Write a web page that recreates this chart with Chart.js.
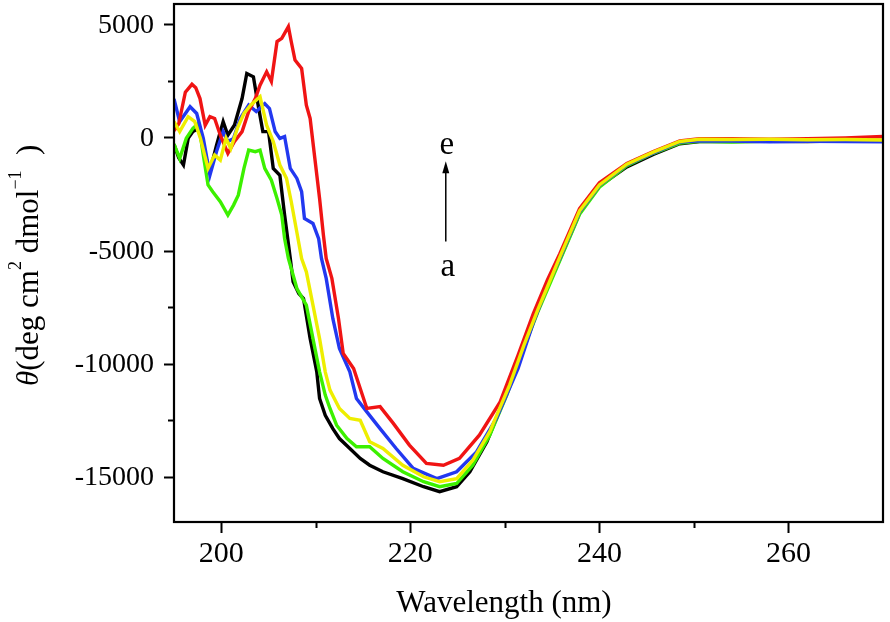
<!DOCTYPE html>
<html>
<head>
<meta charset="utf-8">
<script src="https://cdn.jsdelivr.net/npm/chart.js@4.4.1/dist/chart.umd.min.js"></script>
<style>
  html, body { margin: 0; padding: 0; background: #ffffff; }
  #wrap { width: 890px; height: 622px; }
</style>
</head>
<body>
<div id="wrap"><canvas id="c" width="890" height="622"></canvas></div>
<script>
// ---- Data (wavelength in nm, ellipticity in deg cm^2 dmol^-1) ----
const wavelengthsA = [195.0,195.5,196.0,196.5,197.0,197.6,198.1,198.8,199.5,200.2,200.7,201.4,202.2,202.7,203.4,203.9,204.4,205.0,205.5,206.2,206.7,207.3,207.6,208.2,208.7,209.4,210.1,210.4,211.0,211.8,212.5,213.6,214.7,215.7,217.1,219.2,221.4,223.1,224.9,226.3,228.1,229.8,231.4,233.0,234.5,235.8,237.9,240.0,242.9,245.7,248.5,250.6,254.0,258.0,262.0,266.0,270.0];
const valuesA      = [-300,-900,-1220,-40,260,400,-490,-1500,-340,700,100,550,1720,2830,2680,1430,260,260,-1370,-1670,-3430,-5350,-6380,-6900,-7120,-8890,-10350,-11540,-12280,-12870,-13310,-13750,-14190,-14490,-14780,-15080,-15440,-15660,-15440,-14780,-13450,-11690,-10070,-8150,-6600,-5400,-3350,-2150,-1300,-750,-280,-180,-180,-170,-180,-150,-130];

const wavelengthsB = [195.0,195.6,196.3,197.0,197.6,198.1,198.6,199.1,199.9,200.7,201.3,201.8,202.4,202.9,203.6,204.1,204.6,205.3,205.9,206.4,206.7,207.1,207.5,208.0,209.0,209.7,210.4,211.0,211.5,212.2,213.3,214.3,215.7,217.1,219.2,221.4,223.1,224.9,226.6,228.4,230.2,232.0,233.5,235.8,237.9,240.0,242.9,245.7,248.5,250.6,254.0,258.0,262.0,266.0,270.0];
const valuesB      = [-300,-930,-40,400,620,-780,-2100,-2400,-2840,-3430,-2990,-2550,-1370,-560,-630,-560,-1370,-1890,-2700,-3430,-4470,-5350,-5940,-6680,-7410,-8890,-10360,-11390,-11980,-12720,-13310,-13670,-13670,-14190,-14780,-15220,-15440,-15300,-14490,-13160,-11390,-9300,-7700,-5450,-3400,-2200,-1250,-700,-250,-170,-200,-160,-150,-140,-150];

const wavelengthsC = [195.0,195.6,196.5,197.2,197.8,198.6,199.3,199.9,200.5,201.0,201.7,202.4,203.1,204.1,204.8,205.5,206.2,206.9,207.4,208.0,208.5,209.0,209.7,210.4,211.0,211.5,212.5,213.6,214.7,215.7,217.1,219.2,221.4,223.1,224.9,226.6,228.4,230.5,232.0,233.5,235.8,237.9,240.0,242.9,245.7,248.5,250.6,254.0,258.0,262.0,266.0,270.0];
const valuesC      = [700,260,920,700,-40,-1370,-780,-1000,-40,-490,400,1060,1430,1800,540,-180,-1220,-1810,-2830,-4200,-5350,-5940,-7410,-8890,-10360,-11170,-11980,-12420,-12500,-13450,-13750,-14490,-15000,-15220,-15080,-14270,-13010,-10950,-9200,-7600,-5300,-3250,-2100,-1180,-650,-180,-80,-90,-80,-100,-90,-110];

const wavelengthsD = [195.0,195.6,196.7,197.4,198.1,198.8,199.5,200.2,200.7,201.3,202.0,202.9,203.7,204.6,205.1,205.7,206.2,206.7,207.3,208.0,208.5,208.8,209.7,210.3,210.6,211.1,211.8,212.5,213.6,214.3,215.4,216.8,218.5,220.3,222.8,224.9,227.0,229.1,231.4,233.0,234.5,235.8,237.9,240.0,242.9,245.7,248.5,250.6,254.0,258.0,262.0,266.0,270.0];
const valuesD      = [1700,700,1360,1060,-40,-1670,-620,260,-180,-40,840,1430,1150,1500,1280,260,-40,40,-1370,-1810,-2400,-3580,-3800,-4470,-5350,-6230,-8000,-9330,-10360,-11540,-12130,-12870,-13750,-14630,-15080,-14780,-13900,-12420,-10210,-8200,-6550,-5350,-3300,-2120,-1200,-680,-200,-150,-160,-190,-170,-180,-190];

const wavelengthsE = [195.0,195.5,196.2,196.9,197.3,197.75,198.3,198.8,199.3,199.9,200.7,201.4,202.2,202.9,203.6,204.1,204.8,205.3,205.9,206.4,207.1,207.4,207.8,208.5,209.0,209.4,209.9,210.4,210.8,211.1,211.7,212.4,212.9,214.0,214.7,215.4,216.8,218.2,219.9,221.7,223.5,225.2,227.3,229.5,231.4,233.0,234.5,235.8,237.9,240.0,242.9,245.7,248.5,250.6,254.0,258.0,262.0,266.0,270.0];
const valuesE      = [300,600,2000,2350,2200,1720,540,920,840,100,-700,-180,260,1150,1720,2310,2900,2470,4240,4380,4900,4240,3420,3050,1430,840,-930,-2700,-4300,-5350,-6230,-8000,-9550,-10210,-11100,-11980,-11900,-12640,-13600,-14410,-14490,-14190,-13160,-11690,-9620,-7800,-6300,-5150,-3150,-2000,-1150,-620,-150,-60,-50,-80,-60,-20,40];

const seriesNames  = ['a','b','c','d','e'];
const seriesColors = ['#000000','#3cf000','#eeee00','#2238f0','#f01414'];

const xMajorTicks = [200, 220, 240, 260];
const xMinorTicks = [210, 230, 250];
const yMajorTicks = [-15000, -10000, -5000, 0, 5000];
const yMinorTicks = [-12500, -7500, -2500, 2500];
const yTickLabels = ['-15000', '-10000', '-5000', '0', '5000'];
const xTickLabels = ['200', '220', '240', '260'];

const xTitle = 'Wavelength (nm)';
const annotTop = 'e';
const annotBottom = 'a';

// ---- build datasets ----
const allX = [wavelengthsA, wavelengthsB, wavelengthsC, wavelengthsD, wavelengthsE];
const allY = [valuesA, valuesB, valuesC, valuesD, valuesE];
function pts(xs, ys) { return xs.map((x, i) => ({ x: x, y: ys[i] })); }
// draw order: yellow on top, then red, blue, green, black underneath
const drawOrder = [2, 4, 3, 1, 0];
const datasets = drawOrder.map(i => ({
  label: seriesNames[i],
  data: pts(allX[i], allY[i]),
  borderColor: seriesColors[i],
  borderWidth: 3.4,
  pointRadius: 0,
  tension: 0,
  showLine: true,
  fill: false
}));

const FONT = '"Liberation Serif", "Times New Roman", serif';

const decor = {
  id: 'decor',
  afterDraw(chart) {
    const ctx = chart.ctx;
    const a = chart.chartArea;
    const xs = chart.scales.x, ys = chart.scales.y;
    ctx.save();
    // frame
    ctx.strokeStyle = '#000';
    ctx.lineWidth = 2.2;
    ctx.strokeRect(a.left, a.top, a.right - a.left, a.bottom - a.top);
    // ticks
    ctx.lineWidth = 2;
    ctx.beginPath();
    xMajorTicks.forEach(v => { const p = Math.round(xs.getPixelForValue(v)) + 0.5; ctx.moveTo(p, a.bottom); ctx.lineTo(p, a.bottom + 11); });
    xMinorTicks.forEach(v => { const p = Math.round(xs.getPixelForValue(v)) + 0.5; ctx.moveTo(p, a.bottom); ctx.lineTo(p, a.bottom + 6); });
    yMajorTicks.forEach(v => { const p = Math.round(ys.getPixelForValue(v)) + 0.5; ctx.moveTo(a.left, p); ctx.lineTo(a.left - 10, p); });
    yMinorTicks.forEach(v => { const p = Math.round(ys.getPixelForValue(v)) + 0.5; ctx.moveTo(a.left, p); ctx.lineTo(a.left - 6, p); });
    ctx.stroke();
    // tick labels
    ctx.fillStyle = '#000';
    ctx.font = '28px ' + FONT;
    ctx.textBaseline = 'middle';
    ctx.textAlign = 'right';
    yMajorTicks.forEach((v, i) => ctx.fillText(yTickLabels[i], a.left - 20, ys.getPixelForValue(v) + 1));
    ctx.font = '30px ' + FONT;
    ctx.textAlign = 'center';
    ctx.textBaseline = 'top';
    xMajorTicks.forEach((v, i) => ctx.fillText(xTickLabels[i], xs.getPixelForValue(v), a.bottom + 17));
    // x title
    ctx.font = '31px ' + FONT;
    ctx.textBaseline = 'alphabetic';
    ctx.fillText(xTitle, 504, 612);
    // y title (rotated, with superscripts)
    ctx.translate(38, 386);
    ctx.rotate(-Math.PI / 2);
    ctx.textAlign = 'left';
    ctx.textBaseline = 'alphabetic';
    let cx = 0;
    const seg = (t, size, italic, dy) => {
      ctx.font = (italic ? 'italic ' : '') + size + 'px ' + FONT;
      ctx.fillText(t, cx, dy);
      cx += ctx.measureText(t).width;
    };
    seg('\u03B8', 31, true, 0);
    seg('(deg cm', 31, false, 0);
    seg('2', 18, false, -17);
    seg(' dmol', 31, false, 0);
    seg('\u22121', 18, false, -17);
    seg('  )', 31, false, 0);
    ctx.restore();

    // annotation arrow a -> e
    ctx.save();
    const ax = xs.getPixelForValue(223.75);
    const yTop = ys.getPixelForValue(-1050);
    const yBot = ys.getPixelForValue(-4600);
    ctx.strokeStyle = '#000';
    ctx.fillStyle = '#000';
    ctx.lineWidth = 1.5;
    ctx.beginPath();
    ctx.moveTo(ax, yBot);
    ctx.lineTo(ax, yTop + 8);
    ctx.stroke();
    ctx.beginPath();
    ctx.moveTo(ax, yTop);
    ctx.lineTo(ax - 3.5, yTop + 12);
    ctx.lineTo(ax + 3.5, yTop + 12);
    ctx.closePath();
    ctx.fill();
    ctx.font = '33px ' + FONT;
    ctx.textAlign = 'center';
    ctx.textBaseline = 'alphabetic';
    ctx.fillText(annotTop, ax + 1, ys.getPixelForValue(-350) + 9);
    ctx.fillText(annotBottom, ax + 2, ys.getPixelForValue(-5650) + 11);
    ctx.restore();
  }
};

new Chart(document.getElementById('c'), {
  type: 'line',
  data: { datasets: datasets },
  options: {
    responsive: false,
    animation: false,
    devicePixelRatio: 1,
    layout: { padding: { left: 174, right: 7, top: 4, bottom: 100 } },
    plugins: { legend: { display: false }, tooltip: { enabled: false }, title: { display: false } },
    scales: {
      x: { type: 'linear', min: 195, max: 270, display: false },
      y: { type: 'linear', min: -17000, max: 5900, display: false }
    }
  },
  plugins: [decor]
});
</script>
</body>
</html>
